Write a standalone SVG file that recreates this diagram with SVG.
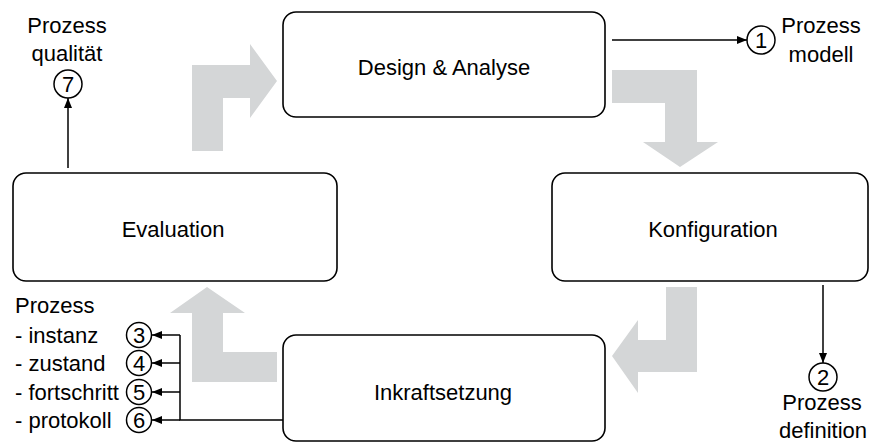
<svg xmlns="http://www.w3.org/2000/svg" width="871" height="443" viewBox="0 0 871 443">
<defs>
<style>
.box{fill:#fff;stroke:#000;stroke-width:1.6}
.t{font-family:"Liberation Sans",Arial,sans-serif;font-size:22px;fill:#000}
.c{text-anchor:middle}
.flow{fill:#d4d6d7;stroke:none}
.ln{fill:none;stroke:#000;stroke-width:1.5}
.circ{fill:#fff;stroke:#000;stroke-width:1.5}
</style>
<marker id="ah" viewBox="0 0 10 8" refX="10" refY="4" markerWidth="10" markerHeight="8" markerUnits="userSpaceOnUse" orient="auto">
<path d="M0,0 L10,4 L0,8 Z" fill="#000"/>
</marker>
</defs>

<g id="flow-arrows">
<polygon class="flow" points="192,151 192,65 250,65 250,44 277,81 250,118 250,98 223,98 223,151"/>
<polygon class="flow" points="612,70 697,70 697,142 718,142 680,167 643,142 665,142 665,103 612,103"/>
<polygon class="flow" points="666,287 697,287 697,372 638,372 638,393 612,356 638,320 638,340 666,340"/>
<polygon class="flow" points="277,352 277,382 192,382 192,313 170,313 207,287 245,313 223,313 223,352"/>
</g>

<g id="design">
<rect class="box" x="283" y="12" width="322" height="105" rx="13"/>
<text class="t c" x="444" y="75">Design &amp; Analyse</text>
</g>
<g id="konfiguration">
<rect class="box" x="552" y="173" width="316" height="108" rx="13"/>
<text class="t c" x="713" y="237">Konfiguration</text>
</g>
<g id="inkraftsetzung">
<rect class="box" x="283" y="335" width="322" height="106" rx="13"/>
<text class="t c" x="443" y="400">Inkraftsetzung</text>
</g>
<g id="evaluation">
<rect class="box" x="13" y="173" width="324" height="108" rx="13"/>
<text class="t c" x="173" y="237">Evaluation</text>
</g>

<g id="connectors">
<line class="ln" x1="612" y1="40" x2="747" y2="40" marker-end="url(#ah)"/>
<line class="ln" x1="823" y1="285" x2="823" y2="363" marker-end="url(#ah)"/>
<line class="ln" x1="68" y1="168" x2="68" y2="98" marker-end="url(#ah)"/>
<polyline class="ln" points="283,420 180,420 180,335"/>
<line class="ln" x1="180" y1="335" x2="152" y2="335" marker-end="url(#ah)"/>
<line class="ln" x1="180" y1="363" x2="152" y2="363" marker-end="url(#ah)"/>
<line class="ln" x1="180" y1="392" x2="152" y2="392" marker-end="url(#ah)"/>
<line class="ln" x1="180" y1="420" x2="152" y2="420" marker-end="url(#ah)"/>
</g>

<g id="out1">
<circle class="circ" cx="761" cy="40" r="14"/>
<text class="t c" x="761" y="48">1</text>
<text class="t c" x="821" y="33">Prozess</text>
<text class="t c" x="821" y="62">modell</text>
</g>
<g id="out2">
<circle class="circ" cx="823" cy="377" r="14"/>
<text class="t c" x="823" y="385">2</text>
<text class="t c" x="822" y="410">Prozess</text>
<text class="t c" x="823" y="438">definition</text>
</g>
<g id="out7">
<circle class="circ" cx="68" cy="84" r="14"/>
<text class="t c" x="68" y="92">7</text>
<text class="t c" x="67" y="33">Prozess</text>
<text class="t c" x="67" y="61">qualität</text>
</g>
<g id="out3-6">
<text class="t" x="15" y="313">Prozess</text>
<text class="t" x="15" y="343">- instanz</text>
<text class="t" x="15" y="371">- zustand</text>
<text class="t" x="15" y="400">- fortschritt</text>
<text class="t" x="15" y="428">- protokoll</text>
<circle class="circ" cx="139" cy="335" r="12.5"/>
<text class="t c" x="139" y="343">3</text>
<circle class="circ" cx="139" cy="363" r="12.5"/>
<text class="t c" x="139" y="371">4</text>
<circle class="circ" cx="139" cy="392" r="12.5"/>
<text class="t c" x="139" y="400">5</text>
<circle class="circ" cx="139" cy="420" r="12.5"/>
<text class="t c" x="139" y="428">6</text>
</g>
</svg>
